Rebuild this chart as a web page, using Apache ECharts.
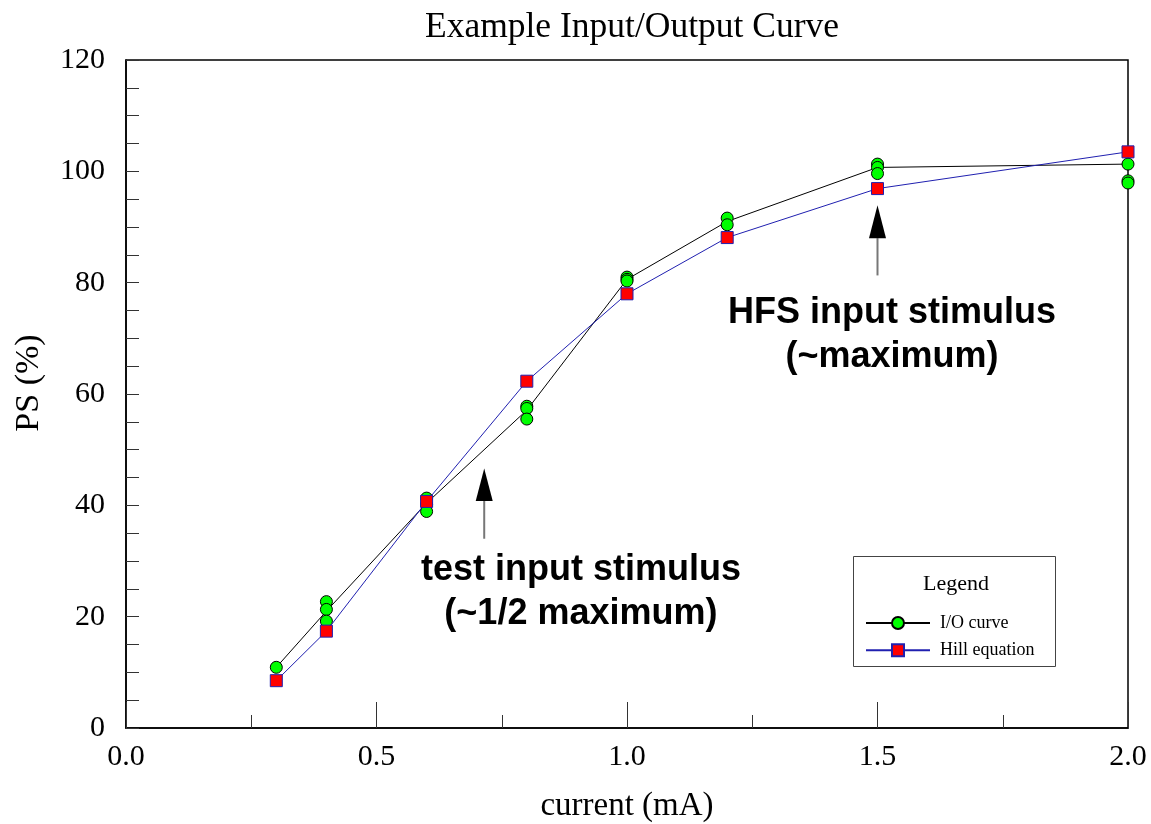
<!DOCTYPE html>
<html>
<head>
<meta charset="utf-8">
<script src="https://cdn.jsdelivr.net/npm/echarts@6/dist/echarts.min.js"></script>
<style>
  html, body { margin: 0; padding: 0; background: #fff; }
  #chart { width: 1151px; height: 824px; }
</style>
</head>
<body>
<div id="chart"></div>
<script>
// ---- data ----
const currents = [0.3, 0.4, 0.6, 0.8, 1.0, 1.2, 1.5, 2.0];
const ioCurve = [10.9, 21.0, 40.4, 57.1, 80.6, 91.0, 100.7, 101.3];
const hillEquation = [8.5, 17.4, 40.7, 62.3, 78.0, 88.1, 96.9, 103.5];
const ioSamples = [
  [10.9],
  [22.7, 21.3, 19.2],
  [41.3, 40.2, 38.9],
  [57.8, 57.4, 55.5],
  [81.0, 80.6, 80.3],
  [91.6, 90.4],
  [101.3, 100.7, 99.6],
  [101.3, 98.3, 97.9]
];
const xTicks = ['0.0', '0.5', '1.0', '1.5', '2.0'];
const yTicks = ['0', '20', '40', '60', '80', '100', '120'];
// annotation: [arrow x, tip y, head base y, stem end y, text x, text y]
const annotationArrows = [
  [0.715, 46.6, 40.8, 34.0, 0.908, 24.4],
  [1.5, 93.9, 88.0, 81.3, 1.529, 70.5]
];
const annotationTexts = [
  'test input stimulus\n(~1/2 maximum)',
  'HFS input stimulus\n(~maximum)'
];

const serif = '"Liberation Serif", "Times New Roman", serif';
const sans = '"Liberation Sans", Arial, sans-serif';

const samplePoints = [];
ioSamples.forEach((ys, i) => ys.forEach(y => samplePoints.push([currents[i], y])));

const chart = echarts.init(document.getElementById('chart'), null, { renderer: 'canvas' });

chart.setOption({
  backgroundColor: '#fff',
  animation: false,
  title: {
    text: 'Example Input/Output Curve',
    left: 627,
    textAlign: 'center',
    top: 5,
    textStyle: { fontFamily: serif, fontWeight: 'normal', fontSize: 35.5, color: '#000' }
  },
  grid: {
    left: 126, right: 23, top: 60, bottom: 96,
    outerBoundsMode: 'none',
    containLabel: false,
    show: true, borderColor: '#000', borderWidth: 1.5, backgroundColor: 'transparent'
  },
  legend: {
    data: ['I/O curve', 'Hill equation'],
    orient: 'vertical',
    left: 865,
    top: 614,
    itemWidth: 64,
    itemHeight: 15,
    itemGap: 9.2,
    padding: 0,
    selectedMode: false,
    textStyle: { fontFamily: serif, fontSize: 18, color: '#000', padding: [0, 0, 0, 5] }
  },
  xAxis: {
    type: 'value',
    min: 0, max: 2, interval: 0.5,
    name: 'current (mA)',
    nameLocation: 'middle',
    nameGap: 62,
    nameTextStyle: { fontFamily: serif, fontSize: 33, color: '#000' },
    axisLine: { show: true, lineStyle: { color: '#000', width: 1.5 } },
    axisTick: { show: true, inside: true, length: 26, lineStyle: { color: '#333', width: 1 } },
    minorTick: { show: true, splitNumber: 2, length: 13, lineStyle: { color: '#333', width: 1 } },
    splitLine: { show: false },
    axisLabel: {
      margin: 14,
      fontFamily: serif, fontSize: 30, color: '#000',
      formatter: v => xTicks[Math.round(v / 0.5)]
    }
  },
  yAxis: {
    type: 'value',
    min: 0, max: 120, interval: 20,
    name: 'PS (%)',
    nameLocation: 'middle',
    nameGap: 80,
    nameTextStyle: { fontFamily: serif, fontSize: 34, color: '#000', padding: [0, 0, 0, 22] },
    axisLine: { show: true, lineStyle: { color: '#000', width: 1.5 } },
    axisTick: { show: true, inside: true, length: 13, lineStyle: { color: '#333', width: 1 } },
    minorTick: { show: true, splitNumber: 4, length: 13, lineStyle: { color: '#333', width: 1 } },
    splitLine: { show: false },
    axisLabel: {
      margin: 21,
      fontFamily: serif, fontSize: 30, color: '#000',
      formatter: v => yTicks[Math.round(v / 20)]
    }
  },
  series: [
    {
      name: 'I/O curve',
      type: 'line',
      data: currents.map((x, i) => [x, ioCurve[i]]),
      symbol: 'circle',
      symbolSize: 12,
      showSymbol: false,
      lineStyle: { color: '#000', width: 1 },
      itemStyle: { color: '#00ff00', borderColor: '#000', borderWidth: 1 },
      z: 2
    },
    {
      name: 'I/O samples',
      type: 'scatter',
      data: samplePoints,
      symbol: 'circle',
      symbolSize: 12,
      itemStyle: { color: '#00ff00', borderColor: '#000', borderWidth: 1, opacity: 1 },
      z: 3
    },
    {
      name: 'Hill equation',
      type: 'line',
      data: currents.map((x, i) => [x, hillEquation[i]]),
      symbol: 'rect',
      symbolSize: 12,
      showSymbol: true,
      lineStyle: { color: '#2020b0', width: 1 },
      itemStyle: { color: '#ff0000', borderColor: '#2020b0', borderWidth: 1 },
      z: 4
    },
    {
      type: 'custom',
      coordinateSystem: 'cartesian2d',
      data: annotationArrows,
      silent: true,
      z: 5,
      renderItem: function (params, api) {
        const x = api.value(0);
        const tip = api.coord([x, api.value(1)]);
        const base = api.coord([x, api.value(2)]);
        const end = api.coord([x, api.value(3)]);
        const txt = api.coord([api.value(4), api.value(5)]);
        return {
          type: 'group',
          children: [
            { type: 'line', shape: { x1: base[0], y1: base[1], x2: end[0], y2: end[1] },
              style: { stroke: '#777', lineWidth: 2 } },
            { type: 'polygon', shape: { points: [[tip[0], tip[1]], [tip[0] - 8.5, base[1]], [tip[0] + 8.5, base[1]]] },
              style: { fill: '#000' } },
            { type: 'text', x: txt[0], y: txt[1],
              style: { text: annotationTexts[params.dataIndex], font: 'bold 36px ' + sans,
                       align: 'center', verticalAlign: 'middle', lineHeight: 44, fill: '#000' } }
          ]
        };
      }
    }
  ],
  graphic: [
    { type: 'rect', left: 853, top: 556, shape: { width: 202, height: 110 },
      style: { fill: '#fff', stroke: '#444', lineWidth: 1 }, z: 0, zlevel: 0 },
    { type: 'text', x: 956, y: 584, style: { text: 'Legend', font: '22px ' + serif, fill: '#000',
      align: 'center', verticalAlign: 'middle' } }
  ]
});
</script>
</body>
</html>
